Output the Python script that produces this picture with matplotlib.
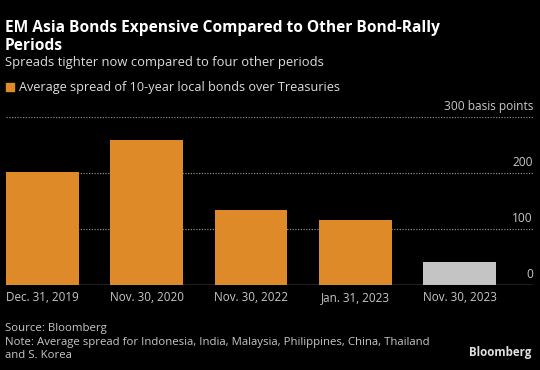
import matplotlib
matplotlib.use('Agg')
import matplotlib.pyplot as plt
from matplotlib.patches import Rectangle

dates = ['Dec. 31, 2019', 'Nov. 30, 2020', 'Nov. 30, 2022', 'Jan. 31, 2023', 'Nov. 30, 2023']
spread = [203, 259, 135, 116, 42]
bar_colors = ['#DE8A28', '#DE8A28', '#DE8A28', '#DE8A28', '#C4C4C4']
yticks = [0, 100, 200, 300]
ylabels = ['0', '100', '200', '300 basis points']

W, H = 540, 370
plt.rcParams['font.family'] = ['Open Sans', 'DejaVu Sans']

fig = plt.figure(figsize=(W / 100, H / 100), dpi=100, facecolor='black')


def fx(px):
    return px / W


def fy(py):
    return 1 - py / H


ax = fig.add_axes([fx(6), fy(285.3), fx(533) - fx(6), fy(117.4) - fy(285.3)])
ax.set_facecolor('black')

x = range(len(dates))
ax.bar(x, spread, width=0.70, color=bar_colors, zorder=3)
ax.set_xlim(-0.35, 4.705)
ax.set_ylim(0, 300)

for v in yticks[1:]:
    ax.axhline(v, color='#8a8a8a', lw=0.9, ls=(0, (1, 1.2)), zorder=1)
ax.axhline(0, color='#a0a0a0', lw=1.0, zorder=4)

for v, lab in zip(yticks, ylabels):
    ax.annotate(lab, xy=(1, v), xycoords=('axes fraction', 'data'),
                xytext=(0, 11), textcoords='offset pixels',
                ha='right', va='center', color='#c8c8c8', fontsize=8.6)

ax.set_xticks(list(x))
ax.set_xticklabels(dates, color='#c8c8c8', fontsize=8.4)
ax.tick_params(axis='x', length=0, pad=4)
ax.set_yticks([])
for s in ax.spines.values():
    s.set_visible(False)

fig.text(fx(5), fy(20), 'EM Asia Bonds Expensive Compared to Other Bond-Rally\nPeriods',
         color='white', fontsize=11.2, fontweight='bold', va='top', ha='left',
         linespacing=1.15)
fig.text(fx(5), fy(62.5), 'Spreads tighter now compared to four other periods',
         color='#dddddd', fontsize=9.4, va='center', ha='left')

fig.patches.append(Rectangle((fx(6), fy(91)), fx(8), fy(83) - fy(91),
                             transform=fig.transFigure, color='#DE8A28'))
fig.text(fx(19), fy(87), 'Average spread of 10-year local bonds over Treasuries',
         color='#dddddd', fontsize=9.1, va='center', ha='left')

fig.text(fx(5), fy(329), 'Source: Bloomberg', color='#c8c8c8', fontsize=8.2,
         va='center', ha='left')
fig.text(fx(5), fy(342.5), 'Note: Average spread for Indonesia, India, Malaysia, Philippines, China, Thailand',
         color='#c8c8c8', fontsize=8.2, va='center', ha='left')
fig.text(fx(5), fy(355), 'and S. Korea', color='#c8c8c8', fontsize=8.2,
         va='center', ha='left')
fig.text(fx(531), fy(352.7), 'Bloomberg', color='#e0e0e0', fontsize=8.3,
         fontweight='bold', va='center', ha='right')

fig.savefig('out.png', dpi=100, facecolor='black')
